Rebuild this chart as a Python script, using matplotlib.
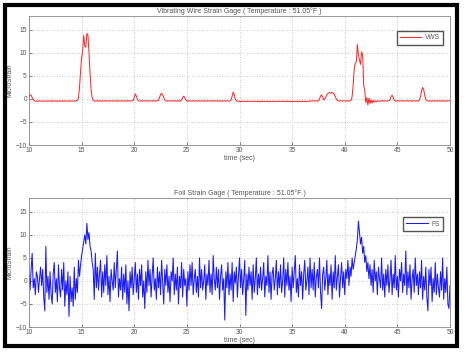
import matplotlib
matplotlib.use("Agg")
import matplotlib.pyplot as plt
from matplotlib.patches import Rectangle
import numpy as np

# sampled every 0.1 s from 10 s to 50 s
t_start = 10.0
t_step = 0.1

# vibrating wire strain gage readings (microstrain)
vws = [
    0.3, 0.9, 0.8, 0.3, -0.1, -0.4, -0.5, -0.4, -0.5, -0.5,
    -0.4, -0.5, -0.5, -0.4, -0.5, -0.5, -0.4, -0.5, -0.5, -0.4,
    -0.5, -0.4, -0.5, -0.5, -0.4, -0.5, -0.4, -0.5, -0.5, -0.4,
    -0.5, -0.5, -0.4, -0.5, -0.4, -0.5, -0.5, -0.4, -0.5, -0.4,
    -0.5, -0.4, -0.5, -0.4, -0.5, -0.4, -0.3, 0.2, 2.5, 6.0,
    9.0, 10.5, 13.8, 11.5, 11.2, 14.2, 13.8, 10.0, 5.5, 2.0,
    0.3, -0.3, -0.4, -0.5, -0.4, -0.4, -0.5, -0.4, -0.4, -0.5,
    -0.4, -0.5, -0.4, -0.4, -0.5, -0.4, -0.5, -0.4, -0.4, -0.5,
    -0.4, -0.4, -0.5, -0.4, -0.5, -0.4, -0.4, -0.5, -0.4, -0.4,
    -0.5, -0.4, -0.4, -0.5, -0.4, -0.4, -0.5, -0.4, -0.4, -0.3,
    0.4, 1.1, 0.6, -0.1, -0.4, -0.5, -0.4, -0.4, -0.5, -0.4,
    -0.4, -0.5, -0.4, -0.4, -0.5, -0.4, -0.4, -0.5, -0.4, -0.4,
    -0.5, -0.4, -0.4, -0.3, 0.3, 1.0, 1.2, 0.9, 0.3, -0.2,
    -0.4, -0.5, -0.4, -0.4, -0.5, -0.4, -0.4, -0.5, -0.4, -0.4,
    -0.5, -0.4, -0.4, -0.5, -0.4, -0.2, 0.3, 0.6, 0.3, -0.2,
    -0.4, -0.5, -0.4, -0.4, -0.5, -0.4, -0.4, -0.5, -0.4, -0.4,
    -0.5, -0.4, -0.4, -0.5, -0.4, -0.4, -0.5, -0.4, -0.4, -0.5,
    -0.4, -0.4, -0.5, -0.4, -0.4, -0.5, -0.4, -0.4, -0.5, -0.4,
    -0.4, -0.5, -0.4, -0.4, -0.5, -0.4, -0.4, -0.5, -0.4, -0.4,
    -0.5, -0.4, -0.2, 0.6, 1.5, 0.9, 0.0, -0.4, -0.5, -0.5,
    -0.5, -0.6, -0.5, -0.5, -0.6, -0.5, -0.5, -0.6, -0.5, -0.5,
    -0.6, -0.5, -0.5, -0.6, -0.5, -0.5, -0.6, -0.5, -0.5, -0.6,
    -0.5, -0.5, -0.6, -0.5, -0.5, -0.6, -0.5, -0.5, -0.6, -0.5,
    -0.5, -0.6, -0.5, -0.5, -0.6, -0.5, -0.5, -0.6, -0.5, -0.5,
    -0.6, -0.5, -0.5, -0.6, -0.5, -0.5, -0.6, -0.5, -0.5, -0.6,
    -0.5, -0.5, -0.6, -0.5, -0.5, -0.6, -0.5, -0.5, -0.6, -0.5,
    -0.5, -0.6, -0.5, -0.5, -0.6, -0.5, -0.5, -0.4, -0.5, -0.4,
    -0.4, -0.5, -0.4, -0.4, -0.5, -0.4, 0.0, 0.6, 0.9, 0.4,
    -0.2, -0.1, 0.4, 0.9, 1.2, 1.3, 1.4, 1.3, 1.4, 1.2,
    1.0, 0.5, 0.0, -0.3, -0.4, -0.5, -0.4, -0.4, -0.5, -0.4,
    -0.4, -0.5, -0.4, -0.4, -0.5, -0.4, -0.3, 0.5, 3.0, 6.5,
    7.8, 8.0, 11.8, 9.5, 8.5, 7.5, 10.2, 9.5, 3.0, 1.8,
    -0.8, 0.3, -1.3, 0.2, -1.0, -0.2, -0.9, -0.3, -0.7, -0.4,
    -0.6, -0.4, -0.5, -0.4, -0.5, -0.4, -0.4, -0.5, -0.4, -0.4,
    -0.5, -0.4, -0.4, -0.2, 0.5, 0.8, 0.3, -0.2, -0.4, -0.5,
    -0.4, -0.4, -0.5, -0.4, -0.4, -0.5, -0.4, -0.4, -0.5, -0.4,
    -0.4, -0.5, -0.4, -0.4, -0.5, -0.4, -0.4, -0.5, -0.4, -0.4,
    -0.5, -0.2, 0.5, 1.8, 2.5, 2.0, 0.8, -0.1, -0.4, -0.5,
    -0.4, -0.4, -0.5, -0.4, -0.4, -0.5, -0.4, -0.4, -0.5, -0.4,
    -0.4, -0.5, -0.4, -0.4, -0.5, -0.4, -0.4, -0.5, -0.4, -0.4,
    -0.4,
]

# foil strain gage readings (microstrain)
fs = [
    1.5, -2.0, 2.5, 6.0, -1.5, 0.5, -3.0, 2.0, 1.0, -2.5,
    0.5, 3.0, -1.0, 2.5, -3.5, -6.5, 7.5, -2.5, 1.0, -4.0,
    2.0, -3.0, -5.0, 1.5, 4.0, -2.5, 0.5, -4.5, 3.5, -1.5,
    -3.5, 2.5, -2.0, 4.0, -5.5, 0.0, -3.0, 2.0, -7.7, 1.0,
    -4.5, -1.5, -5.5, 3.0, -4.0, 0.5, -2.5, 4.5, 1.0, 3.5,
    5.5, 7.0, 8.5, 10.0, 8.0, 12.5, 9.0, 10.5, 7.5, 6.5,
    4.0, 2.5, -4.0, 6.0, -1.5, 3.0, -2.0, 1.5, 4.5, -3.5,
    2.0, -2.5, 3.5, -1.0, 5.5, -3.0, 1.0, -4.5, 2.5, 0.0,
    -2.0, 4.0, -1.5, 2.5, 6.5, -3.5, 0.5, -2.0, 3.0, -4.0,
    1.5, -2.5, 3.5, -5.0, 0.0, -6.5, 2.0, -1.5, 3.0, -3.0,
    0.5, 4.0, -2.5, 1.5, -4.0, 2.5, -1.0, 3.5, -3.5, 0.0,
    -6.0, 2.0, -2.5, 4.5, -1.0, 2.5, -3.5, 1.0, 5.0, -2.0,
    0.5, -4.0, 3.0, -1.5, 2.0, -3.0, 4.5, -0.5, -5.0, 2.5,
    -1.0, 3.5, -2.5, 1.0, -4.5, 2.0, 0.0, 5.0, -3.0, 1.5,
    -2.0, 3.0, -5.0, 1.0, -1.5, 4.0, -3.5, 2.5, -1.0, 0.5,
    -5.5, 2.0, -2.0, 3.5, -1.0, 4.0, -3.0, 0.5, 2.5, -2.5,
    1.0, -3.5, 5.0, -1.5, 2.5, -2.0, 0.0, 3.5, -4.0, 1.5,
    -1.0, 4.5, -2.5, 1.5, -3.0, 5.5, 0.5, -2.0, 3.0, -1.5,
    2.5, -4.0, 1.0, 3.5, -2.0, 0.5, -8.5, 2.0, -1.5, 4.0,
    -3.0, 1.5, -2.0, 4.0, -4.5, 2.0, -0.5, 3.0, -3.5, 1.0,
    5.0, -1.5, 2.5, -3.0, 0.5, 4.5, -7.5, 1.5, -2.0, 3.0,
    -1.0, 2.0, -4.0, 3.5, -2.5, 0.5, 5.0, -3.0, 1.5, -1.5,
    3.0, -2.0, 0.5, 4.0, -3.5, 1.0, -1.0, 5.5, -2.5, 2.0,
    -4.0, 1.5, 3.0, -2.0, 0.5, 4.5, -3.0, 2.0, -1.5, 3.5,
    -2.5, 0.0, 5.0, -3.5, 2.5, -1.0, 4.0, -2.0, 1.0, -4.5,
    3.0, -1.5, 2.0, 5.5, -2.5, 0.5, -3.5, 3.5, -1.0, 2.0,
    -4.0, 1.5, 4.5, -2.0, 0.0, 3.0, -3.0, 5.0, -1.5, 2.5,
    -2.0, 4.0, -3.5, 1.0, 2.5, -1.5, 5.0, -2.5, -6.0, 1.5,
    3.0, -2.0, 0.5, 4.5, -3.0, 1.5, -1.0, 3.5, -4.0, 2.0,
    -1.5, 5.5, -2.0, 1.0, 3.5, -3.5, 0.5, 4.0, -1.5, 2.0,
    -3.0, 2.5, 0.5, 4.5, -1.0, 3.0, 1.0, 5.0, 2.5, 4.0,
    5.5, 7.0, 9.0, 13.0, 10.5, 8.0, 9.5, 6.0, 7.5, 4.0,
    5.5, 2.0, 4.0, 0.5, 3.5, -1.0, 2.5, -2.5, 4.5, 0.0,
    2.0, -3.0, 3.0, 0.5, -1.5, 5.0, -2.0, 1.5, -3.5, 2.5,
    -1.0, 3.5, -2.5, 0.5, 4.5, -3.0, 1.5, -1.5, 5.5, -2.0,
    1.0, -3.5, 2.5, 0.0, 4.0, -2.5, 1.5, -1.0, 6.5, -3.0,
    2.0, -1.5, 3.5, -4.0, 0.5, 2.5, -2.5, 5.0, -1.0, 1.5,
    -3.0, 2.0, -1.5, 4.5, -4.0, 1.0, -2.0, 3.0, -3.5, -6.5,
    2.5, -1.0, 3.0, -4.5, 0.5, -2.5, 4.0, -3.0, 1.5, -1.5,
    -3.5, 2.0, -2.0, 5.0, -4.0, 0.5, -2.5, 3.0, -5.0, -6.0,
    -1.0,
]

titles = ["Vibrating Wire Strain Gage ( Temperature : 51.05°F )",
          "Foil Strain Gage ( Temperature : 51.05°F )"]
x_ticks = [10, 15, 20, 25, 30, 35, 40, 45, 50]
y_ticks = [-10, -5, 0, 5, 10, 15]

plt.rcParams['font.family'] = ['Liberation Sans', 'DejaVu Sans']
plt.rcParams['font.size'] = 5

W, H = 466, 353
fig = plt.figure(figsize=(W / 100, H / 100), dpi=100)

def px_axes(left, top, right, bottom):
    return fig.add_axes([left / W, 1 - bottom / H, (right - left) / W, (bottom - top) / H])

ax1 = px_axes(29, 16, 450, 145)
ax2 = px_axes(29, 198, 450, 327)

t1 = t_start + t_step * np.arange(len(vws))
t2 = t_start + t_step * np.arange(len(fs))

ax1.plot(t1, vws, color='#ff2020', lw=0.7, label='VWS')
ax2.plot(t2, fs, color='#1a1aff', lw=0.75, label='FS')

text_c = '#555555'
for ax, title, anchor in [(ax1, titles[0], (0.983, 0.884)), (ax2, titles[1], (0.983, 0.849))]:
    ax.set_xlim(10, 50)
    ax.set_ylim(-10, 18)
    ax.set_xticks(x_ticks)
    ax.set_yticks(y_ticks)
    ax.grid(True, linestyle=(0, (1, 2)), color='#bbbbbb', lw=0.6)
    ax.tick_params(direction='in', length=2, width=0.5, colors=text_c, labelsize=4.8, pad=1.5)
    for s in ax.spines.values():
        s.set_color('#888888')
        s.set_linewidth(0.6)
    ax.set_title(title, color=text_c, fontsize=5, pad=2)
    ax.set_xlabel("time (sec)", color=text_c, fontsize=5, labelpad=1)
    ax.set_ylabel("MicroStrain", color=text_c, fontsize=4.8)
    ax.yaxis.set_label_coords(-0.038, 0.5)
    leg = ax.legend(loc='upper right', bbox_to_anchor=anchor, fancybox=False,
                    fontsize=4.8, handlelength=3.2, borderpad=0.5, handletextpad=0.5,
                    framealpha=1, borderaxespad=0)
    leg.get_frame().set_edgecolor('#555555')
    leg.get_frame().set_linewidth(1.0)
    for txt in leg.get_texts():
        txt.set_color(text_c)

# black frame around the picture
fig.patches.append(Rectangle((4.5 / W, 1 - 345.5 / H), (457 - 4.5) / W, (345.5 - 4.5) / H,
                             transform=fig.transFigure, fill=False, edgecolor='black', lw=3))

fig.savefig("out.png", dpi=100)
